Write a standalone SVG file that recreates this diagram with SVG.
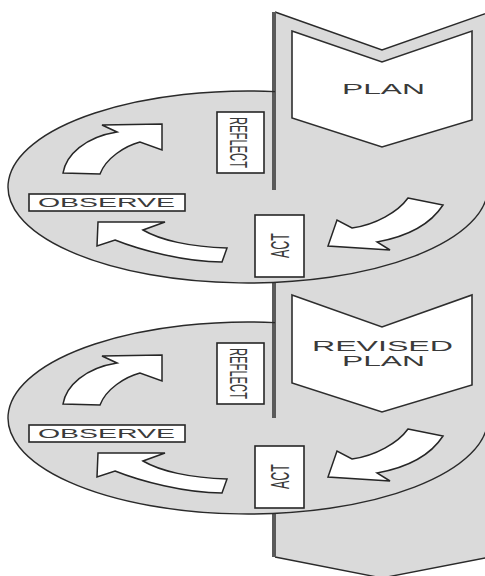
<svg xmlns="http://www.w3.org/2000/svg" width="485" height="576" viewBox="0 0 485 576">
<style>
.gray{fill:#dadada}
.edge{fill:none;stroke:#2a2a2a;stroke-width:1.4}
.bandline{fill:none;stroke:#5a5a5a;stroke-width:4}
.chev{fill:#ffffff;stroke:#2e2e2e;stroke-width:1.6;stroke-linejoin:miter}
.box{fill:#ffffff;stroke:#262626;stroke-width:1.6}
.arrow{fill:#ffffff;stroke:#262626;stroke-width:1.5;stroke-linejoin:miter}
.lbl{font-family:"Liberation Sans",Arial,sans-serif;fill:#3a3a3a}
</style>
<rect width="485" height="576" fill="#ffffff"/>
<g id="cycle1">
<ellipse class="gray" cx="248" cy="187" rx="240" ry="96"/>
</g>
<g id="cycle2">
<ellipse class="gray" cx="248" cy="418" rx="240" ry="96"/>
</g>
<g id="band">
<path class="gray" d="M275,12 L382,50 L492,12 L492,557 L382,578 L275,557 Z"/>
<path class="edge" d="M275,12 L382,50 L490,12"/>
<path class="edge" d="M275,557 L382,578 L490,557"/>
<path class="bandline" d="M274,12 V190 M274,283 V418 M274,514 V557"/>
</g>
<g id="cycle-outlines">
<path class="edge" d="M275,91.6 A240,96 0 1 0 488,187"/>
<path class="edge" d="M275,322.6 A240,96 0 1 0 488,418"/>
</g>
<g id="plan">
<path class="chev" d="M292,31 L382,62 L472,31 L472,120 L382,147 L292,118 Z"/>
<text class="lbl" x="383.5" y="94" font-size="15" text-anchor="middle" textLength="83" lengthAdjust="spacingAndGlyphs">PLAN</text>
</g>
<g id="revised-plan">
<path class="chev" d="M292,295 L382,327 L472,295 L472,385 L382,412 L292,383 Z"/>
<text class="lbl" x="382.5" y="351" font-size="14" text-anchor="middle" textLength="141" lengthAdjust="spacingAndGlyphs">REVISED</text>
<text class="lbl" x="383.5" y="366" font-size="14" text-anchor="middle" textLength="83" lengthAdjust="spacingAndGlyphs">PLAN</text>
</g>
<g id="reflect1">
<rect class="box" x="217" y="112" width="47" height="61"/>
<text class="lbl" transform="translate(238.5,142.5) scale(2.15,1) rotate(90)" x="0" y="4" font-size="11" text-anchor="middle" textLength="51" lengthAdjust="spacingAndGlyphs">REFLECT</text>
</g>
<g id="act1">
<rect class="box" x="255" y="215" width="49" height="62"/>
<text class="lbl" transform="translate(279,245.5) scale(2.4,1) rotate(-90)" x="0" y="4" font-size="11" text-anchor="middle" textLength="25" lengthAdjust="spacingAndGlyphs">ACT</text>
</g>
<g id="observe1">
<rect class="box" x="29" y="194" width="156" height="17"/>
<text class="lbl" x="106.5" y="207" font-size="12" text-anchor="middle" textLength="137" lengthAdjust="spacingAndGlyphs" fill="#555">OBSERVE</text>
</g>
<g id="reflect2">
<rect class="box" x="217" y="343" width="47" height="61"/>
<text class="lbl" transform="translate(238.5,373.5) scale(2.15,1) rotate(90)" x="0" y="4" font-size="11" text-anchor="middle" textLength="51" lengthAdjust="spacingAndGlyphs">REFLECT</text>
</g>
<g id="act2">
<rect class="box" x="255" y="446" width="49" height="62"/>
<text class="lbl" transform="translate(279,476.5) scale(2.4,1) rotate(-90)" x="0" y="4" font-size="11" text-anchor="middle" textLength="25" lengthAdjust="spacingAndGlyphs">ACT</text>
</g>
<g id="observe2">
<rect class="box" x="29" y="425" width="156" height="17"/>
<text class="lbl" x="106.5" y="438" font-size="12" text-anchor="middle" textLength="137" lengthAdjust="spacingAndGlyphs">OBSERVE</text>
</g>
<g id="connectors">
<defs>
<path id="arrA" d="M63,173 C66,155 85,137 117,132 L102,125 L162,124 L162,150 L140,142 C125,146 106,158 100,174 Z"/>
<path id="arrB" d="M98,222 L165,222 L143,230 C160,240 190,247 227,248 L222,262 C185,262 140,250 115,240 L97,246 Z"/>
<path id="arrC" d="M408,198 L443,205 C432,222 410,236 377,242 L390,250 L328,246 L337,220 L352,228 C375,225 398,212 408,198 Z"/>
</defs>
<use href="#arrA" class="arrow"/>
<use href="#arrB" class="arrow"/>
<use href="#arrC" class="arrow"/>
<use href="#arrA" class="arrow" transform="translate(0,231)"/>
<use href="#arrB" class="arrow" transform="translate(0,231)"/>
<use href="#arrC" class="arrow" transform="translate(0,231)"/>
</g>
</svg>
